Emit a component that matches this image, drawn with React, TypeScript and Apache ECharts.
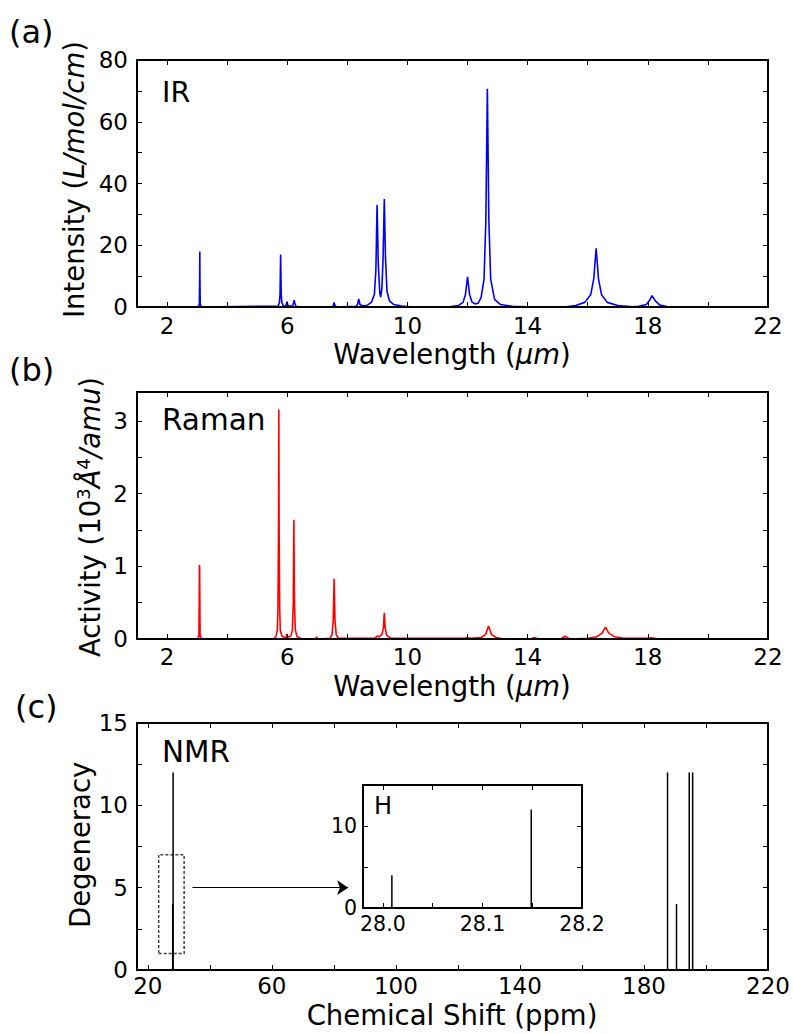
import React, { useEffect, useRef } from "react";
import * as echarts from "echarts";

const FONT = "DejaVu Sans";

// ---------- (a) IR spectrum ----------
const irWavelength = [2.8, 3.04, 3.075, 3.085, 3.09, 3.095, 3.105, 3.14, 5.7, 5.74, 5.76, 5.78, 5.8, 5.82, 5.87, 5.95, 5.99, 6.03, 6.18, 6.23, 6.28, 6.4, 7.48, 7.53, 7.56, 7.59, 7.65, 8.28, 8.34, 8.38, 8.42, 8.5, 8.65, 8.8, 8.9, 8.95, 8.99, 9.03, 9.08, 9.11, 9.15, 9.19, 9.23, 9.27, 9.32, 9.4, 9.55, 9.8, 10.2, 11.4, 11.7, 11.85, 11.93, 12.0, 12.07, 12.15, 12.25, 12.35, 12.45, 12.55, 12.61, 12.66, 12.71, 12.77, 12.9, 13.1, 13.5, 14.2, 15.2, 15.6, 15.9, 16.1, 16.2, 16.28, 16.36, 16.46, 16.65, 17.0, 17.5, 17.7, 17.95, 18.05, 18.14, 18.25, 18.4, 18.7];
const irIntensity = [0, 0, 1, 9, 18, 9, 1, 0, 0.3, 1.5, 4, 17, 4, 1.5, 0.4, 0.3, 1.7, 0.3, 0.3, 2.2, 0.3, 0, 0, 0.4, 1.5, 0.4, 0, 0.2, 0.8, 2.6, 0.8, 0.4, 0.5, 1.5, 4, 12, 33, 14, 4.5, 3.2, 6, 16, 35, 16, 5, 2, 0.8, 0.3, 0, 0.1, 0.5, 1.5, 4, 9.8, 4, 1.6, 1.0, 1.2, 3, 9, 28, 70.7, 28, 9, 2.5, 0.8, 0.2, 0, 0, 0.5, 1.5, 4, 9, 19, 9, 4, 1.5, 0.5, 0.1, 0.2, 0.8, 2, 3.7, 2, 0.6, 0];

// ---------- (b) Raman spectrum ----------
const ramanWavelength = [2.8, 3.03, 3.06, 3.07, 3.078, 3.085, 3.092, 3.1, 3.15, 5.55, 5.63, 5.67, 5.69, 5.71, 5.72, 5.73, 5.75, 5.77, 5.82, 5.9, 5.96, 5.98, 6.0, 6.12, 6.17, 6.2, 6.22, 6.24, 6.27, 6.33, 6.5, 6.95, 6.98, 7.01, 7.42, 7.49, 7.53, 7.56, 7.59, 7.63, 7.7, 8.9, 9.0, 9.05, 9.15, 9.2, 9.23, 9.26, 9.31, 9.45, 11.9, 12.0, 12.1, 12.45, 12.6, 12.7, 12.8, 12.95, 13.2, 14.1, 14.23, 14.35, 15.1, 15.25, 15.4, 16.0, 16.3, 16.48, 16.59, 16.7, 16.9, 17.2, 18.0, 18.1, 18.4];
const ramanActivity = [0, 0, 0.05, 0.5, 1.02, 0.97, 0.5, 0.05, 0, 0, 0.04, 0.12, 0.4, 1.5, 3.16, 1.5, 0.4, 0.12, 0.04, 0.02, 0.02, 0.07, 0.02, 0.04, 0.12, 0.5, 1.64, 0.5, 0.12, 0.03, 0, 0, 0.03, 0, 0.01, 0.06, 0.25, 0.83, 0.25, 0.06, 0.01, 0.01, 0.04, 0.03, 0.06, 0.15, 0.36, 0.15, 0.05, 0.01, 0.01, 0.02, 0.01, 0.02, 0.06, 0.18, 0.06, 0.02, 0, 0, 0.02, 0, 0, 0.04, 0, 0.01, 0.03, 0.08, 0.165, 0.08, 0.03, 0.01, 0.01, 0.015, 0];

// ---------- (c) NMR ----------
const nmrShiftH = [28.009, 28.149];
const nmrDegH = [4, 12];
const nmrShiftC = [187.6, 190.5, 194.6, 195.7];
const nmrDegC = [12, 4, 12, 12];

// ---------- ticks ----------
const wlTicks = [2, 4, 6, 8, 10, 12, 14, 16, 18, 20, 22];
const wlLabels = [2, 6, 10, 14, 18, 22];
const irTicks = [0, 10, 20, 30, 40, 50, 60, 70, 80];
const irLabels = [0, 20, 40, 60, 80];
const ramanTicks = [0, 0.5, 1, 1.5, 2, 2.5, 3];
const ramanLabels = [0, 1, 2, 3];
const nmrXTicks = [20, 40, 60, 80, 100, 120, 140, 160, 180, 200, 220];
const nmrXLabels = [20, 60, 100, 140, 180, 220];
const nmrYTicks = [0, 2.5, 5, 7.5, 10, 12.5, 15];
const nmrYLabels = [0, 5, 10, 15];
const insetXTicks = [28.0, 28.05, 28.1, 28.15, 28.2];
const insetXLabels = [28.0, 28.1, 28.2];
const insetYTicks = [0, 5, 10, 15];
const insetYLabels = [0, 10];

const zip = (a: number[], b: number[]) => a.map((v, i) => [v, b[i]]);

function axis(kind: "x" | "y", gridIndex: number, position: string, min: number, max: number, ticks: number[], labels: number[] | null, fontSize: number, margin: number, formatter?: (v: number) => string) {
  return {
    type: "value",
    gridIndex,
    position,
    min,
    max,
    z: 10,
    axisLine: { show: true, onZero: false, lineStyle: { color: "#000", width: 2 } },
    axisTick: { show: true, inside: true, length: 5, customValues: ticks, lineStyle: { color: "#000", width: 1 } },
    axisLabel: labels
      ? { show: true, customValues: labels, color: "#000", fontSize, fontFamily: FONT, margin, formatter: formatter || ((v: number) => String(v)) }
      : { show: false },
    splitLine: { show: false },
  };
}

function stickRender(params: any, api: any) {
  const x = api.value(0);
  const y = api.value(1);
  const p0 = api.coord([x, 0]);
  const p1 = api.coord([x, y]);
  return {
    type: "line",
    shape: { x1: p0[0], y1: p0[1], x2: p1[0], y2: p1[1] },
    style: { stroke: "#000", lineWidth: 1.5 },
  };
}

function text(t: string, x: number, y: number, size: number, align = "left") {
  return {
    type: "text",
    x,
    y,
    z: 100,
    style: {
      text: t,
      fontSize: size,
      fontFamily: FONT,
      fill: "#000",
      textAlign: align,
      align,
      textVerticalAlign: "middle",
      verticalAlign: "middle",
    },
  };
}

const TS = 27.5;
const richBase = {
  n: { fontSize: TS, fontFamily: FONT, lineHeight: 32, fill: "#000", color: "#000" },
  i: { fontSize: TS, fontFamily: FONT, fontStyle: "italic", lineHeight: 32, fill: "#000", color: "#000" },
  s: { fontSize: 18, fontFamily: FONT, lineHeight: 19, verticalAlign: "top", fill: "#000", color: "#000" },
};

function richText(t: string, x: number, y: number, align: string, rotation = 0) {
  return {
    type: "text",
    x,
    y,
    rotation,
    z: 100,
    style: {
      text: t,
      rich: richBase,
      fontSize: TS,
      fontFamily: FONT,
      fill: "#000",
      textAlign: align,
      align,
      textVerticalAlign: "middle",
      verticalAlign: "middle",
    },
  };
}

export default function App() {
  const ref = useRef<HTMLDivElement>(null);
  useEffect(() => {
    const chart = echarts.init(ref.current!, null, { renderer: "svg", width: 793, height: 1034 });
    const option: any = {
      animation: false,
      backgroundColor: "#fff",
      grid: [
        { left: 137, top: 60, width: 631, height: 247 },
        { left: 137, top: 392, width: 631, height: 247 },
        { left: 137, top: 723, width: 631, height: 247 },
        { left: 363, top: 785, width: 219, height: 123, show: true, backgroundColor: "#fff", borderWidth: 0 },
      ],
      xAxis: [
        axis("x", 0, "bottom", 1, 22, wlTicks, wlLabels, 23, 7),
        axis("x", 0, "top", 1, 22, wlTicks, null, 23, 0),
        axis("x", 1, "bottom", 1, 22, wlTicks, wlLabels, 23, 6),
        axis("x", 1, "top", 1, 22, wlTicks, null, 23, 0),
        axis("x", 2, "bottom", 16.5, 220, nmrXTicks, nmrXLabels, 23, 4),
        axis("x", 2, "top", 16.5, 220, nmrXTicks, null, 23, 0),
        axis("x", 3, "bottom", 27.98, 28.2, insetXTicks, insetXLabels, 20.5, 5, (v: number) => v.toFixed(1)),
        axis("x", 3, "top", 27.98, 28.2, insetXTicks, null, 20.5, 0),
      ],
      yAxis: [
        axis("y", 0, "left", 0, 80, irTicks, irLabels, 23, 9),
        axis("y", 0, "right", 0, 80, irTicks, null, 23, 0),
        axis("y", 1, "left", 0, 3.4, ramanTicks, ramanLabels, 23, 9),
        axis("y", 1, "right", 0, 3.4, ramanTicks, null, 23, 0),
        axis("y", 2, "left", 0, 15, nmrYTicks, nmrYLabels, 23, 9),
        axis("y", 2, "right", 0, 15, nmrYTicks, null, 23, 0),
        axis("y", 3, "left", 0, 15, insetYTicks, insetYLabels, 20.5, 6),
        axis("y", 3, "right", 0, 15, insetYTicks, null, 20.5, 0),
      ],
      series: [
        {
          type: "line",
          xAxisIndex: 0,
          yAxisIndex: 0,
          data: zip(irWavelength, irIntensity),
          showSymbol: false,
          symbol: "none",
          lineStyle: { color: "#0000ff", width: 1.6 },
          z: 2,
        },
        {
          type: "line",
          xAxisIndex: 2,
          yAxisIndex: 2,
          data: zip(ramanWavelength, ramanActivity),
          showSymbol: false,
          symbol: "none",
          lineStyle: { color: "#ff0000", width: 1.6 },
          z: 2,
        },
        {
          type: "custom",
          xAxisIndex: 4,
          yAxisIndex: 4,
          encode: { x: 0, y: 1 },
          data: zip(nmrShiftH.concat(nmrShiftC), nmrDegH.concat(nmrDegC)),
          renderItem: stickRender,
          z: 2,
          markArea: {
            silent: true,
            label: { show: false },
            itemStyle: { color: "rgba(0,0,0,0)", borderColor: "#444", borderWidth: 1.5, borderType: [3, 2] },
            data: [[{ coord: [23.5, 1] }, { coord: [31.7, 7] }]],
          },
          markLine: {
            silent: true,
            symbol: ["none", "arrow"],
            symbolSize: 11,
            label: { show: false },
            lineStyle: { color: "#000", width: 1.2, type: "solid" },
            data: [[{ coord: [34.4, 5] }, { coord: [84.6, 5] }]],
          },
        },
        {
          type: "custom",
          xAxisIndex: 6,
          yAxisIndex: 6,
          encode: { x: 0, y: 1 },
          data: zip(nmrShiftH, nmrDegH),
          renderItem: stickRender,
          z: 5,
        },
      ],
      graphic: [
        text("(a)", 9, 32, 32),
        text("(b)", 9, 370, 32),
        text("(c)", 15, 707, 32),
        text("IR", 162, 92, 28.5),
        text("Raman", 162, 420, 29.5),
        text("NMR", 162, 752, 29.5),
        text("H", 374, 806, 24),
        richText("{n|Wavelength (}{i|μm}{n|)}", 452, 354, "center"),
        richText("{n|Wavelength (}{i|μm}{n|)}", 452, 686, "center"),
        richText("{n|Chemical Shift (ppm)}", 452, 1015, "center"),
        richText("{n|Intensity (}{i|L/mol/cm}{n|)}", 74, 318, "left", Math.PI / 2),
        richText("{n|Activity (10}{s|3}{i|Å}{s|4}{i|/amu}{n|)}", 90, 657, "left", Math.PI / 2),
        richText("{n|Degeneracy}", 80, 928, "left", Math.PI / 2),
      ],
    };
    chart.setOption(option);
    return () => chart.dispose();
  }, []);
  return <div ref={ref} style={{ position: "absolute", left: 0, top: 0, width: 793, height: 1034, background: "#fff" }} />;
}
